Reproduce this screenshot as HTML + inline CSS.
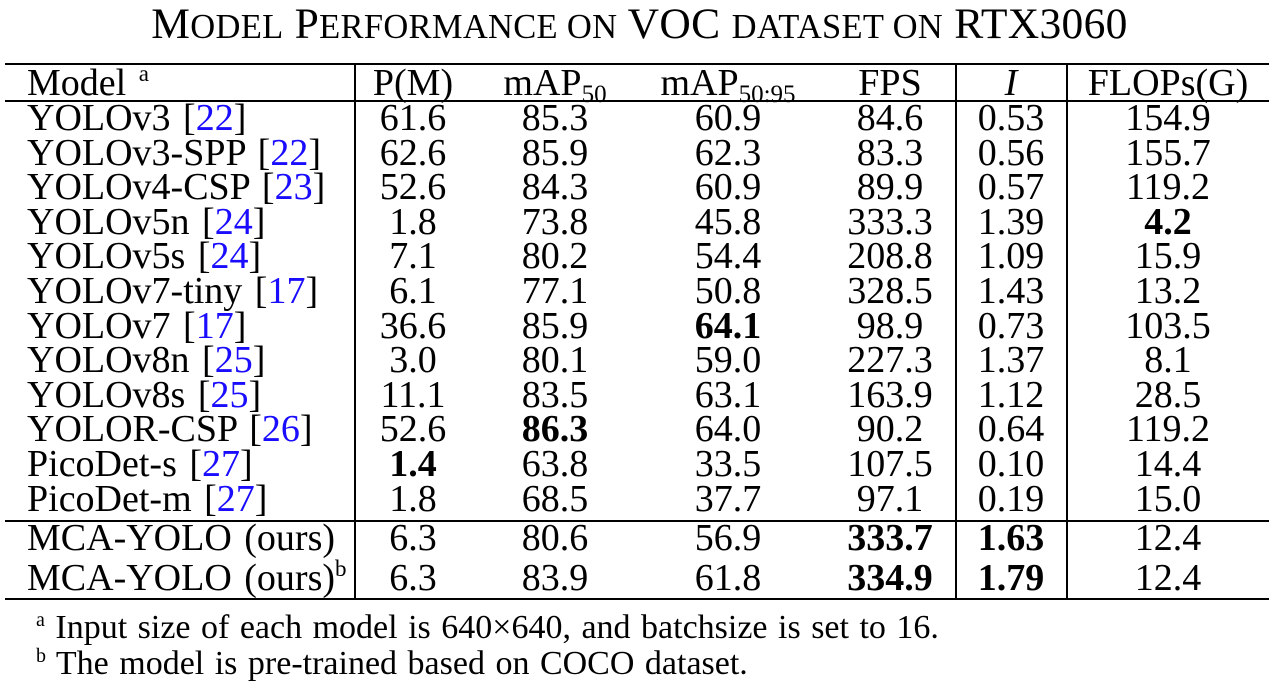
<!DOCTYPE html>
<html><head><meta charset="utf-8"><style>
body{margin:0;width:1279px;height:688px;background:#fff;position:relative;overflow:hidden;font-family:"Liberation Serif",serif;color:#000}
.c{position:absolute;font-size:38px;line-height:38px;white-space:nowrap;transform:translate(-50%,-50%)}
.l{position:absolute;font-size:38px;line-height:38px;white-space:nowrap;transform:translateY(-50%);word-spacing:3px}
.h{position:absolute;background:#000;height:2px}
.v{position:absolute;background:#000;width:2px}
.ref{color:#1a0dff}
sub{font-size:25px;vertical-align:-7px;line-height:0}
sup{font-size:23px;vertical-align:14px;line-height:0}
b{font-weight:bold}
.fn{position:absolute;left:36px;font-size:34px;line-height:34px;white-space:nowrap;word-spacing:2px}
.fn sup{font-size:20px;vertical-align:12px}
</style></head><body>
<div style="position:absolute;left:0;width:1279px;top:0px;text-align:center;font-size:43.5px;line-height:48px;letter-spacing:0.3px">M<span style="font-size:34.5px">ODEL</span> P<span style="font-size:34.5px">ERFORMANCE ON</span> VOC <span style="font-size:34.5px">DATASET ON</span> RTX3060</div>
<div class="h" style="left:5px;width:1264px;top:63px"></div>
<div class="h" style="left:5px;width:1264px;top:100px"></div>
<div class="h" style="left:5px;width:1264px;top:520px"></div>
<div class="h" style="left:5px;width:1264px;top:598px"></div>
<div class="v" style="left:354px;top:63px;height:537px"></div>
<div class="v" style="left:955px;top:63px;height:537px"></div>
<div class="v" style="left:1066px;top:63px;height:537px"></div>
<div id="t"></div>
<div class="fn" style="top:611px"><sup>a</sup> Input size of each model is 640×640, and batchsize is set to 16.</div>
<div class="fn" style="top:647px"><sup>b</sup> The model is pre-trained based on COCO dataset.</div>
<script>
const models=["YOLOv3 [<span class='ref'>22</span>]","YOLOv3-SPP [<span class='ref'>22</span>]","YOLOv4-CSP [<span class='ref'>23</span>]","YOLOv5n [<span class='ref'>24</span>]","YOLOv5s [<span class='ref'>24</span>]","YOLOv7-tiny [<span class='ref'>17</span>]","YOLOv7 [<span class='ref'>17</span>]","YOLOv8n [<span class='ref'>25</span>]","YOLOv8s [<span class='ref'>25</span>]","YOLOR-CSP [<span class='ref'>26</span>]","PicoDet-s [<span class='ref'>27</span>]","PicoDet-m [<span class='ref'>27</span>]","MCA-YOLO (ours)","MCA-YOLO (ours)<sup>b</sup>"];
const params=["61.6","62.6","52.6","1.8","7.1","6.1","36.6","3.0","11.1","52.6","<b>1.4</b>","1.8","6.3","6.3"];
const map50=["85.3","85.9","84.3","73.8","80.2","77.1","85.9","80.1","83.5","<b>86.3</b>","63.8","68.5","80.6","83.9"];
const map5095=["60.9","62.3","60.9","45.8","54.4","50.8","<b>64.1</b>","59.0","63.1","64.0","33.5","37.7","56.9","61.8"];
const fps=["84.6","83.3","89.9","333.3","208.8","328.5","98.9","227.3","163.9","90.2","107.5","97.1","<b>333.7</b>","<b>334.9</b>"];
const idx=["0.53","0.56","0.57","1.39","1.09","1.43","0.73","1.37","1.12","0.64","0.10","0.19","<b>1.63</b>","<b>1.79</b>"];
const flops=["154.9","155.7","119.2","<b>4.2</b>","15.9","13.2","103.5","8.1","28.5","119.2","14.4","15.0","12.4","12.4"];
const t=document.getElementById('t');
function cell(cls,x,y,html,name){const d=document.createElement('div');d.className=cls;d.style.left=x+'px';d.style.top=y+'px';d.innerHTML=html;


t.appendChild(d);}
const xs=[413,555,728,890,1011,1168];
const hdr=["P(M)","mAP<sub>50</sub>","mAP<sub>50:95</sub>","FPS","<i>I</i>","FLOPs(G)"];
cell('l',27,83,"Model <sup>a</sup>",'header-model');
hdr.forEach((h,i)=>cell('c',xs[i],83,h,'header-cell'));
models.forEach((m,r)=>{const y=r<12?118+r*34.6:(r==12?538:578);
cell('l',27,y,m,'model-name');
[params,map50,map5095,fps,idx,flops].forEach((arr,i)=>cell('c',xs[i],y,arr[r],'value-cell'));});
</script>
</body></html>
